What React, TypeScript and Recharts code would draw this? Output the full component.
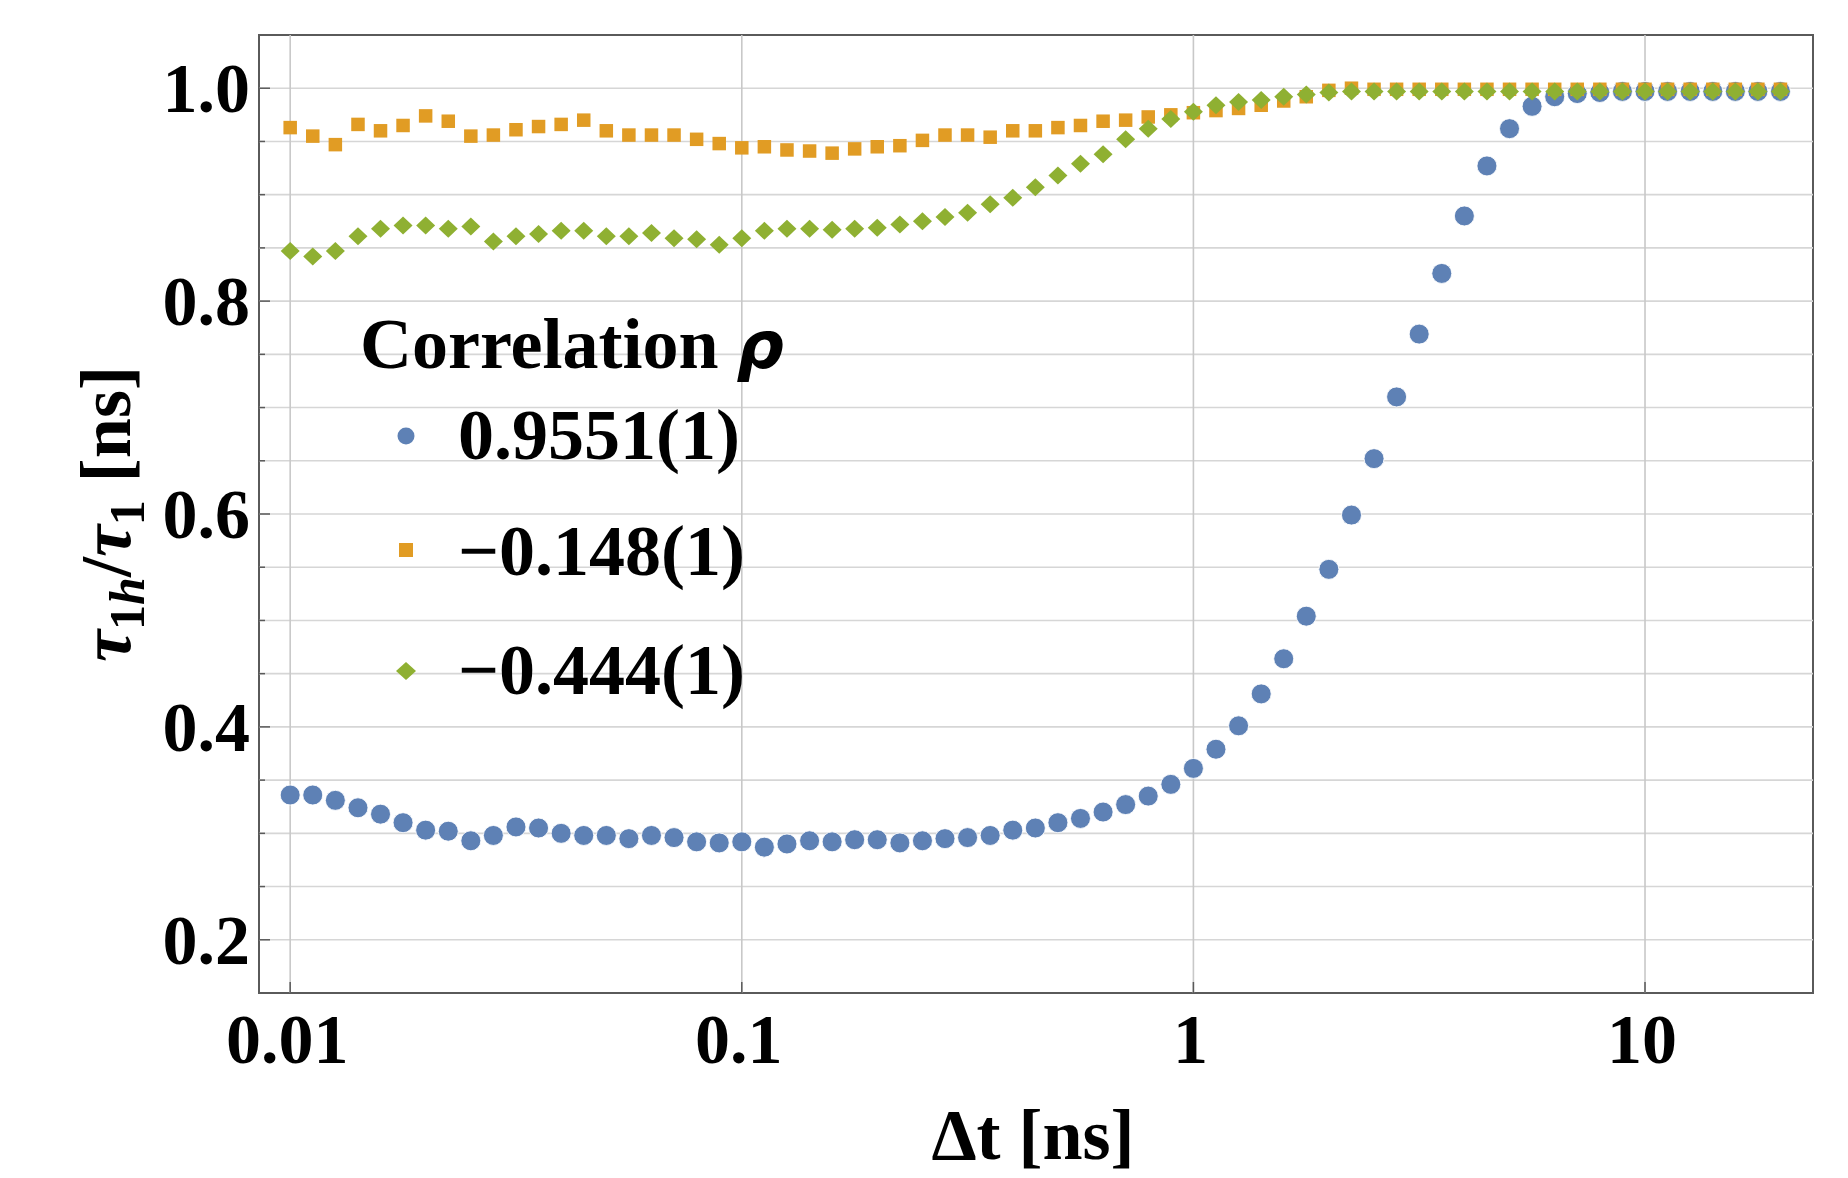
import React from "react";
import {
  ScatterChart,
  Scatter,
  XAxis,
  YAxis,
  ReferenceLine,
  ReferenceArea,
  Legend,
} from "recharts";

// ---------- data ----------
const xValues = [
  0.01, 0.01122, 0.01259, 0.01413, 0.01585, 0.01778, 0.01995, 0.02239, 0.02512, 0.02818,
  0.03162, 0.03548, 0.03981, 0.04467, 0.05012, 0.05623, 0.0631, 0.07079, 0.07943, 0.08913,
  0.1, 0.1122, 0.1259, 0.1413, 0.1585, 0.1778, 0.1995, 0.2239, 0.2512, 0.2818,
  0.3162, 0.3548, 0.3981, 0.4467, 0.5012, 0.5623, 0.631, 0.7079, 0.7943, 0.8913,
  1, 1.122, 1.259, 1.413, 1.585, 1.778, 1.995, 2.239, 2.512, 2.818,
  3.162, 3.548, 3.981, 4.467, 5.012, 5.623, 6.31, 7.079, 7.943, 8.913,
  10, 11.22, 12.59, 14.13, 15.85, 17.78, 19.95,
];

const blueValues = [
  0.336, 0.336, 0.331, 0.324, 0.318, 0.31, 0.303, 0.302, 0.293, 0.298,
  0.306, 0.305, 0.3, 0.298, 0.298, 0.295, 0.298, 0.296, 0.292, 0.291,
  0.292, 0.287, 0.29, 0.293, 0.292, 0.294, 0.294, 0.291, 0.293, 0.295,
  0.296, 0.298, 0.303, 0.305, 0.31, 0.314, 0.32, 0.327, 0.335, 0.346,
  0.361, 0.379, 0.401, 0.431, 0.464, 0.504, 0.548, 0.599, 0.652, 0.71,
  0.769, 0.826, 0.88, 0.927, 0.962, 0.983, 0.992, 0.995, 0.996, 0.997,
  0.997, 0.997, 0.997, 0.997, 0.997, 0.997, 0.997,
];

const orangeValues = [
  0.963, 0.955, 0.947, 0.966, 0.96, 0.965, 0.974, 0.969, 0.955, 0.956,
  0.961, 0.964, 0.966, 0.97, 0.96, 0.956, 0.956, 0.956, 0.952, 0.948,
  0.944, 0.945, 0.942, 0.941, 0.939, 0.943, 0.945, 0.946, 0.951, 0.956,
  0.956, 0.954, 0.96, 0.96, 0.963, 0.965, 0.969, 0.97, 0.973, 0.975,
  0.977, 0.979, 0.981, 0.984, 0.988, 0.992, 0.998, 1.0, 0.999, 0.999,
  0.999, 0.999, 0.999, 0.999, 0.999, 0.999, 0.999, 0.999, 0.999, 0.999,
  0.999, 0.999, 0.999, 0.999, 0.999, 0.999, 0.999,
];

const greenValues = [
  0.847, 0.842, 0.847, 0.861, 0.868, 0.871, 0.871, 0.868, 0.87, 0.856,
  0.861, 0.863, 0.866, 0.866, 0.861, 0.861, 0.864, 0.859, 0.858, 0.853,
  0.859, 0.866, 0.868, 0.868, 0.867, 0.868, 0.869, 0.872, 0.875, 0.879,
  0.883, 0.891, 0.897, 0.907, 0.918, 0.929, 0.938, 0.952, 0.962, 0.971,
  0.978, 0.984, 0.987, 0.989, 0.992, 0.994, 0.996, 0.997, 0.997, 0.997,
  0.997, 0.997, 0.997, 0.997, 0.997, 0.997, 0.997, 0.997, 0.997, 0.997,
  0.997, 0.997, 0.997, 0.997, 0.997, 0.997, 0.997,
];

const seriesNames = ["0.9551(1)", "\u22120.148(1)", "\u22120.444(1)"];
const seriesColors = ["#5E81B5", "#E19C24", "#8FB032"];

const xTicks = [0.01, 0.1, 1, 10];
const xTickLabels = ["0.01", "0.1", "1", "10"];
const yTicks = [0.2, 0.25, 0.3, 0.35, 0.4, 0.45, 0.5, 0.55, 0.6, 0.65, 0.7, 0.75, 0.8, 0.85, 0.9, 0.95, 1.0];
const yMajorTicks = [0.2, 0.4, 0.6, 0.8, 1.0];
const xDomain: [number, number] = [0.00853, 23.55];
const yDomain: [number, number] = [0.15, 1.05];

const blueData = xValues.map((x, i) => ({ x, y: blueValues[i] }));
const orangeData = xValues.map((x, i) => ({ x, y: orangeValues[i] }));
const greenData = xValues.map((x, i) => ({ x, y: greenValues[i] }));

// ---------- styles ----------
const FONT = "'Liberation Serif', 'Times New Roman', serif";
const FRAME = "#5a5a5a";
const GRID_H = "#d6d6d6";
const GRID_V = "#c8c8c8";

const W = 1836;
const H = 1170;
const MARGIN = { top: 27, right: 31, left: 51, bottom: 85 };
const Y_AXIS_W = 200;
const X_AXIS_H = 100;
const Y_TICK_MARGIN = 9;
const X_TICK_MARGIN = 70;

// ---------- markers ----------
const CircleShape = (p: any) => (
  <circle cx={p.cx} cy={p.cy} r={10} fill={seriesColors[0]} stroke="#ffffff" strokeWidth={1} strokeOpacity={0.85} />
);
const SquareShape = (p: any) => (
  <rect x={p.cx - 6.75} y={p.cy - 6.75} width={13.5} height={13.5} fill={seriesColors[1]} />
);
const DiamondShape = (p: any) => (
  <polygon
    points={`${p.cx},${p.cy - 9} ${p.cx + 9.5},${p.cy} ${p.cx},${p.cy + 9} ${p.cx - 9.5},${p.cy}`}
    fill={seriesColors[2]}
  />
);

// ---------- ticks ----------
const YTick = (props: any) => {
  const { x, y, payload } = props;
  const v = payload.value;
  const major = yMajorTicks.some((m) => Math.abs(m - v) < 1e-6);
  const left = x + Y_TICK_MARGIN;
  return (
    <g>
      <line x1={left} x2={left + (major ? 11 : 6)} y1={y} y2={y} stroke={FRAME} strokeWidth={1.5} />
      {major && (
        <text x={x} y={y} dy="0.34em" textAnchor="end" fontFamily={FONT} fontWeight="bold" fontSize={70} fill="#000">
          {v.toFixed(1)}
        </text>
      )}
    </g>
  );
};

const XTick = (props: any) => {
  const { x, y, payload } = props;
  const idx = xTicks.findIndex((t) => Math.abs(t - payload.value) < 1e-9);
  const bottom = y - X_TICK_MARGIN;
  return (
    <g>
      <line x1={x} x2={x} y1={bottom} y2={bottom - 11} stroke={FRAME} strokeWidth={1.5} />
      <text x={x - 3} y={y} textAnchor="middle" fontFamily={FONT} fontWeight="bold" fontSize={70} fill="#000">
        {idx >= 0 ? xTickLabels[idx] : String(payload.value)}
      </text>
    </g>
  );
};

// ---------- axis labels ----------
const XLabel = (props: any) => {
  const vb = props.viewBox || {};
  const cx = vb.x + vb.width / 2 - 3;
  const by = vb.y + 166;
  return (
    <text x={cx} y={by} textAnchor="middle" fontFamily={FONT} fontWeight="bold" fontSize={72} fill="#000">
      Δt [ns]
    </text>
  );
};

const YLabel = (props: any) => {
  const vb = props.viewBox || {};
  const bx = vb.x + 71;
  const cy = vb.y + vb.height / 2;
  return (
    <text
      x={bx}
      y={cy}
      transform={`rotate(-90, ${bx}, ${cy})`}
      textAnchor="middle"
      fontFamily={FONT}
      fontWeight="bold"
      fontSize={72}
      fill="#000"
    >
      <tspan fontStyle="italic">τ</tspan>
      <tspan fontSize={50} dy={14}>1</tspan>
      <tspan fontSize={50} fontStyle="italic">h</tspan>
      <tspan dy={-14}>/</tspan>
      <tspan fontStyle="italic">τ</tspan>
      <tspan fontSize={50} dy={14}>1</tspan>
      <tspan dy={-14}> [ns]</tspan>
    </text>
  );
};

// ---------- legend ----------
const LegendContent = () => {
  const rowY = [148, 262, 383];
  const baseY = [171, 287, 406];
  const markers = [
    (cx: number, cy: number) => <circle cx={cx} cy={cy} r={8.5} fill={seriesColors[0]} />,
    (cx: number, cy: number) => <rect x={cx - 7} y={cy - 7} width={14} height={14} fill={seriesColors[1]} />,
    (cx: number, cy: number) => (
      <polygon points={`${cx},${cy - 9} ${cx + 10},${cy} ${cx},${cy + 9} ${cx - 10},${cy}`} fill={seriesColors[2]} />
    ),
  ];
  return (
    <svg width={600} height={460} style={{ position: "absolute", left: 340, top: 280, overflow: "visible" }}>
      <text x={12} y={80} fontFamily={FONT} fontWeight="bold" fontSize={72} fill="#000">
        Correlation{" "}
        <tspan fontFamily="'DejaVu Sans', sans-serif" fontStyle="italic" fontSize={66}>ρ</tspan>
      </text>
      {seriesNames.map((name, i) => (
        <g key={name}>
          {markers[i](58, rowY[i])}
          <text x={110} y={baseY[i]} fontFamily={FONT} fontWeight="bold" fontSize={72} fill="#000">
            {name}
          </text>
        </g>
      ))}
    </svg>
  );
};

export default function App() {
  return (
    <div style={{ width: W, height: H, background: "#fff" }}>
      <ScatterChart width={W} height={H} margin={MARGIN}>
        <XAxis
          dataKey="x"
          type="number"
          scale="log"
          domain={xDomain}
          allowDataOverflow
          ticks={xTicks}
          interval={0}
          axisLine={false}
          tickLine={false}
          tickSize={0}
          tickMargin={X_TICK_MARGIN}
          height={X_AXIS_H}
          tick={<XTick />}
          label={<XLabel />}
        />
        <YAxis
          dataKey="y"
          type="number"
          domain={yDomain}
          allowDataOverflow
          ticks={yTicks}
          interval={0}
          axisLine={false}
          tickLine={false}
          tickSize={0}
          tickMargin={Y_TICK_MARGIN}
          width={Y_AXIS_W}
          tick={<YTick />}
          label={<YLabel />}
        />
        {yTicks.map((v) => (
          <ReferenceLine key={`gy${v}`} y={v} stroke={GRID_H} strokeWidth={1.6} />
        ))}
        {xTicks.map((v) => (
          <ReferenceLine key={`gx${v}`} x={v} stroke={GRID_V} strokeWidth={1.6} />
        ))}
        <Legend
          content={<LegendContent />}
          wrapperStyle={{ position: "absolute", left: 0, top: 0, width: 0, height: 0, overflow: "visible" }}
        />
        <Scatter name={seriesNames[0]} data={blueData} fill={seriesColors[0]} shape={CircleShape} isAnimationActive={false} />
        <Scatter name={seriesNames[1]} data={orangeData} fill={seriesColors[1]} shape={SquareShape} isAnimationActive={false} />
        <Scatter name={seriesNames[2]} data={greenData} fill={seriesColors[2]} shape={DiamondShape} isAnimationActive={false} />
        <ReferenceArea
          x1={xDomain[0]}
          x2={xDomain[1]}
          y1={yDomain[0]}
          y2={yDomain[1]}
          fill="none"
          fillOpacity={0}
          stroke={FRAME}
          strokeWidth={2}
          ifOverflow="visible"
        />
      </ScatterChart>
    </div>
  );
}
